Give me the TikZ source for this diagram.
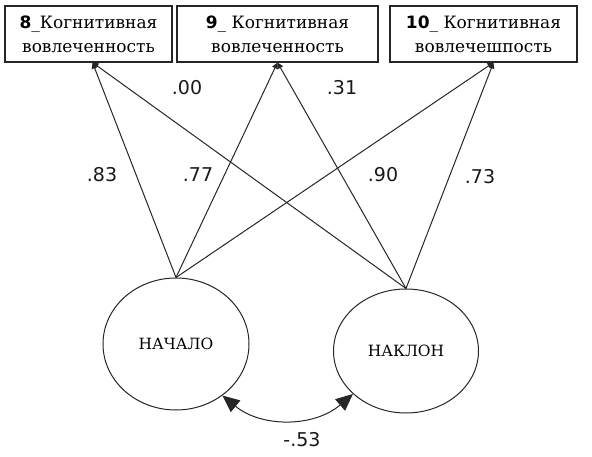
\documentclass[tikz,border=0pt]{standalone}
\usepackage{fontspec}
\setmainfont{DejaVu Serif}
\setsansfont{DejaVu Sans}
\usetikzlibrary{arrows.meta, positioning, shapes.geometric}

\begin{document}
\begin{tikzpicture}[x=1pt, y=-1pt,
    indicator/.style={draw=black!85, line width=1.1pt, rectangle, minimum height=56pt, inner sep=0pt, align=center, font=\fontsize{17}{24}\selectfont},
    latent/.style={draw=black!85, line width=1pt, ellipse, inner sep=0pt, font=\fontsize{15.5}{17}\selectfont},
    loading/.style={draw=black!85, line width=1pt, -{Triangle[length=6pt, width=6pt]}},
    coef/.style={font=\sffamily\fontsize{19}{21}\selectfont, text=black!90}]
  \useasboundingbox (0,0) rectangle (592,457);
  % Observed indicators (waves 8--10)
  \node[indicator, minimum width=167pt] (box8) at (88.5,34) {{\sffamily\bfseries 8}\_Когнитивная\\вовлеченность};
  \node[indicator, minimum width=201pt] (box9) at (277.5,34) {{\sffamily\bfseries 9}\_ Когнитивная\\вовлеченность};
  \node[indicator, minimum width=187pt] (box10) at (483.5,34) {{\sffamily\bfseries 10}\_ Когнитивная\\вовлечешпость};

  % Latent growth factors
  \node[latent, minimum width=146pt, minimum height=132pt] (start) at (176,344) {НАЧАЛО};
  \node[latent, minimum width=145pt, minimum height=124pt] (slope) at (406,351) {НАКЛОН};

  % Factor loadings
  \draw[loading] (start.north) -- ([xshift=4pt]box8.south);
  \draw[loading] (start.north) -- (box9.south);
  \draw[loading] (start.north) -- ([xshift=10pt]box10.south);
  \draw[loading] (slope.north) -- ([xshift=4pt]box8.south);
  \draw[loading] (slope.north) -- (box9.south);
  \draw[loading] (slope.north) -- ([xshift=10pt]box10.south);

  \node[coef] (l00) at (187,88) {.00};
  \node[coef] (l31) at (342,88) {.31};
  \node[coef] (l83) at (102,175) {.83};
  \node[coef] (l77) at (198,175) {.77};
  \node[coef] (l90) at (383,175) {.90};
  \node[coef] (l73) at (480,177) {.73};

  % Covariance between intercept and slope
  \draw[draw=black!85, line width=1pt, {Triangle[length=17pt, width=15pt]}-{Triangle[length=17pt, width=15pt]}]
    (start.-48) to[bend right=40] (slope.-141);
  \node[coef] (cov) at (302,440) {-.53};
\end{tikzpicture}
\end{document}
